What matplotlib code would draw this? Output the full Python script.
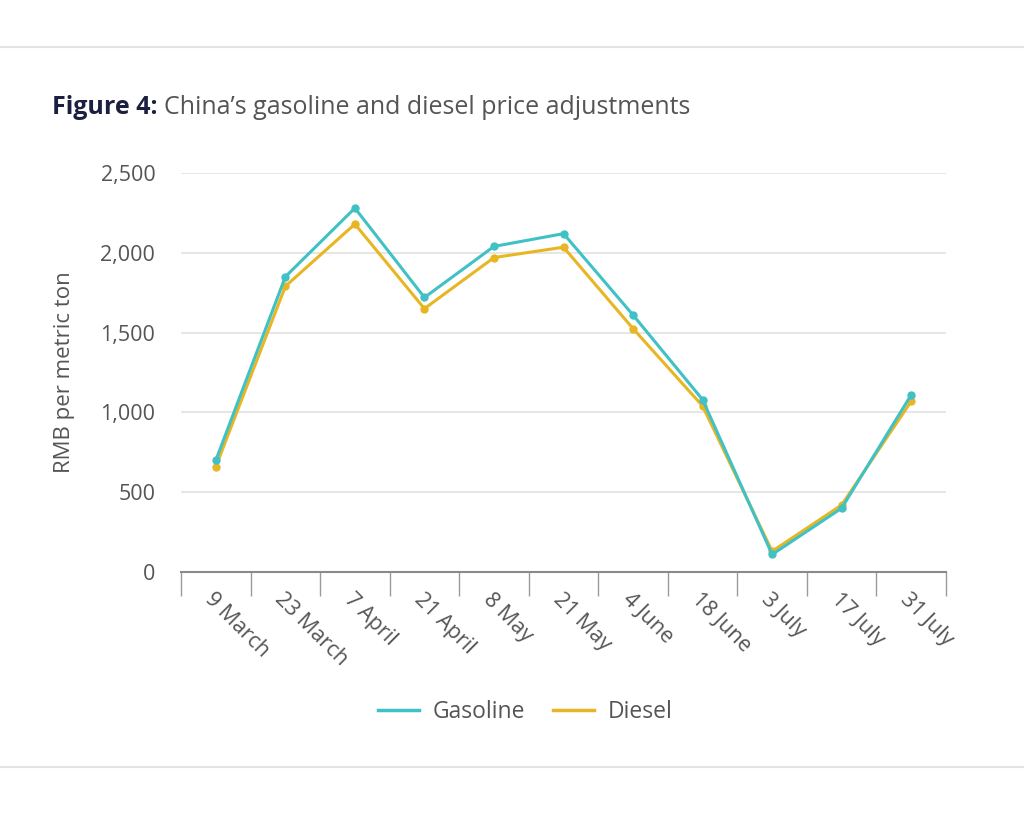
import matplotlib
matplotlib.use("Agg")
import matplotlib.pyplot as plt
from matplotlib.lines import Line2D

# ---- data ----
dates = ["9 March", "23 March", "7 April", "21 April", "8 May", "21 May",
         "4 June", "18 June", "3 July", "17 July", "31 July"]
gasoline = [700, 1850, 2280, 1720, 2040, 2120, 1610, 1080, 110, 400, 1110]
diesel = [660, 1790, 2180, 1650, 1970, 2035, 1525, 1040, 130, 420, 1070]
y_ticks = [0, 500, 1000, 1500, 2000, 2500]

teal = "#3fc1c5"
gold = "#e8b622"
grey_txt = "#555555"
navy = "#1c2040"

plt.rcParams["font.family"] = ["Open Sans", "DejaVu Sans"]

fig = plt.figure(figsize=(10.24, 8.16), dpi=100)
ax = fig.add_axes([0.1768, 0.299, 0.747, 0.489])

x = list(range(len(dates)))
ax.plot(x, gasoline, color=teal, lw=2.2, marker="o", ms=5, label="Gasoline", zorder=4)
ax.plot(x, diesel, color=gold, lw=2.2, marker="o", ms=5, label="Diesel", zorder=3)

ax.set_xlim(-0.5, len(dates) - 0.5)
ax.set_ylim(0, 2500)
ax.set_yticks(y_ticks)
ax.set_yticklabels([f"{v:,}" for v in y_ticks])
ax.grid(axis="y", color="#e2e2e2", lw=1.2)
ax.set_axisbelow(True)

for s in ["top", "right", "left"]:
    ax.spines[s].set_visible(False)
ax.spines["bottom"].set_color("#8a8a8a")
ax.spines["bottom"].set_linewidth(1.5)

ax.set_xticks(x)
ax.set_xticklabels(dates, rotation=-45, ha="left", va="top", rotation_mode="anchor")
ax.set_xticks([i - 0.5 for i in range(len(dates) + 1)], minor=True)
ax.tick_params(axis="x", which="major", length=0, pad=12, labelsize=15.5, colors=grey_txt)
ax.tick_params(axis="x", which="minor", length=17, width=1, color="#9a9a9a")
ax.tick_params(axis="y", length=0, pad=18.5, labelsize=15.5, colors=grey_txt)

ax.set_ylabel("RMB per metric ton", fontsize=16, color=grey_txt)
ax.yaxis.set_label_coords(-0.138, 0.5)

# title in two parts
t1 = fig.text(52 / 1024, 1 - 107 / 816, "Figure 4:", fontsize=18, fontweight="bold",
              color=navy, va="center", ha="left")
fig.canvas.draw()
bb = t1.get_window_extent()
fig.text((bb.x1 + 7) / 1024, 1 - 107 / 816, "China\u2019s gasoline and diesel price adjustments",
         fontsize=18, color=grey_txt, va="center", ha="left")

# separator lines
fig.add_artist(Line2D([0, 1], [0.942, 0.942], color="#e3e3e3", lw=1.5))
fig.add_artist(Line2D([0, 1], [0.060, 0.060], color="#e3e3e3", lw=1.5))

handles = [Line2D([], [], color=teal, lw=2.5), Line2D([], [], color=gold, lw=2.5)]
leg = fig.legend(handles, ["Gasoline", "Diesel"], loc="center", bbox_to_anchor=(0.513, 0.127),
                 ncol=2, frameon=False, fontsize=16.5, handlelength=1.8, columnspacing=1.2,
                 handletextpad=0.6)
for t in leg.get_texts():
    t.set_color(grey_txt)

fig.savefig("out.png", dpi=100, facecolor="white")
